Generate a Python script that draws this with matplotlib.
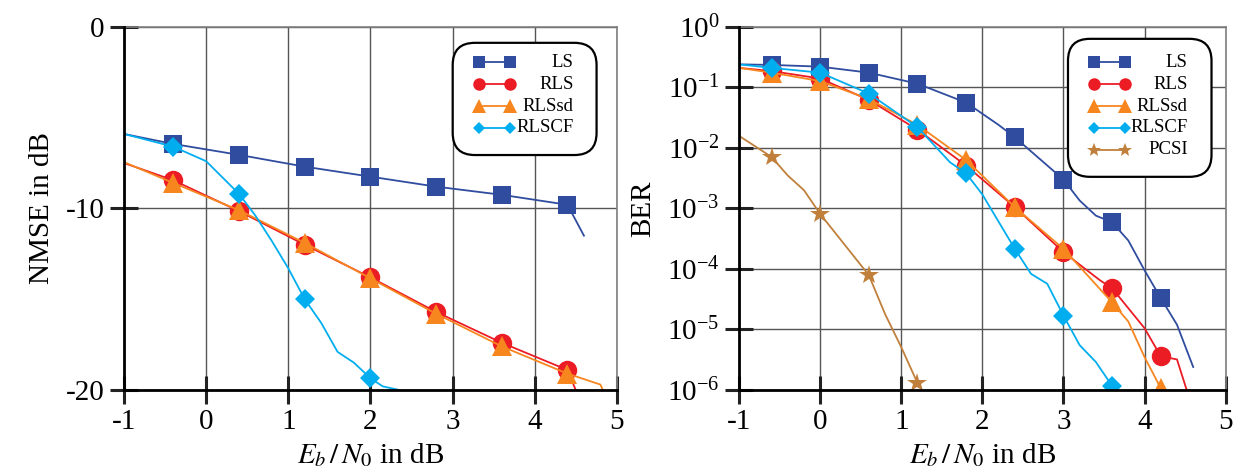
import numpy as np
import matplotlib
matplotlib.use("Agg")
import matplotlib.pyplot as plt
from matplotlib.patches import FancyBboxPatch

plt.rcParams['font.family'] = ['Liberation Serif', 'DejaVu Serif']
plt.rcParams['mathtext.fontset'] = 'stix'
plt.rcParams['axes.unicode_minus'] = False

# ---------------- NMSE (left) ----------------
nmse_ls_x = [-1, -0.4, 0.4, 1.2, 2.0, 2.8, 3.6, 4.4, 4.6]
nmse_ls_y = [-5.9, -6.45, -7.05, -7.7, -8.25, -8.8, -9.25, -9.8, -11.5]
nmse_rls_x = [-1, -0.4, 0.4, 1.2, 2.0, 2.8, 3.6, 4.4, 4.5]
nmse_rls_y = [-7.5, -8.45, -10.15, -12.0, -13.8, -15.7, -17.4, -18.9, -20.0]
nmse_rlssd_x = [-1, -0.4, 0.4, 1.2, 2.0, 2.8, 3.6, 4.4, 4.8, 4.83]
nmse_rlssd_y = [-7.45, -8.6, -10.1, -11.9, -13.85, -15.8, -17.6, -19.1, -19.7, -20.0]
nmse_rlscf_x = [-1, -0.4, 0, 0.4, 0.6, 0.8, 1.0, 1.2, 1.4, 1.6, 1.8, 2.0, 2.15, 2.35]
nmse_rlscf_y = [-5.9, -6.6, -7.4, -9.2, -10.4, -11.8, -13.3, -15.0, -16.3, -17.9, -18.5, -19.35, -19.8, -20.0]
nmse_marker_x = [-0.4, 0.4, 1.2, 2.0, 2.8, 3.6, 4.4]

# ---------------- BER (right) ----------------
ber_ls_x = [-1, -0.6, 0, 0.6, 1.2, 1.8, 2.2, 2.4, 3.0, 3.2, 3.4, 3.6, 3.8, 4.0, 4.2, 4.4, 4.6]
ber_ls_y = [0.24, 0.235, 0.22, 0.175, 0.115, 0.056, 0.024, 0.015, 0.003, 1.35e-3, 7.6e-4,
            5.9e-4, 2.95e-4, 9.5e-5, 3.3e-5, 1.2e-5, 2.4e-6]
ber_rls_x = [-1, -0.6, 0, 0.6, 1.2, 1.8, 2.4, 3.0, 3.45, 3.6, 4.0, 4.2, 4.4, 4.52]
ber_rls_y = [0.21, 0.186, 0.14, 0.062, 0.020, 0.0051, 1.05e-3, 1.9e-4, 6.5e-5, 4.8e-5,
             1.05e-5, 3.6e-6, 3.2e-6, 1.0e-6]
ber_rlssd_x = [-1, -0.6, 0, 0.6, 1.2, 1.8, 2.4, 3.0, 3.6, 3.8, 4.0, 4.2]
ber_rlssd_y = [0.21, 0.175, 0.127, 0.064, 0.024, 0.0063, 1.05e-3, 2.15e-4, 2.8e-5, 1.35e-5,
               3.5e-6, 1.07e-6]
ber_rlscf_x = [-1, -0.6, 0, 0.6, 1.2, 1.6, 1.8, 2.0, 2.4, 2.6, 2.8, 3.0, 3.2, 3.4, 3.6]
ber_rlscf_y = [0.24, 0.21, 0.175, 0.079, 0.022, 0.0058, 0.0038, 1.7e-3, 2.15e-4, 8.3e-5,
               5.7e-5, 1.7e-5, 5.5e-6, 2.9e-6, 1.17e-6]
ber_pcsi_x = [-1, -0.6, -0.4, -0.2, 0, 0.6, 0.8, 1.0, 1.2]
ber_pcsi_y = [0.0158, 7.1e-3, 3.5e-3, 2.0e-3, 8.1e-4, 7.9e-5, 1.8e-5, 5.1e-6, 1.3e-6]
ber_marker_x = [-0.6, 0, 0.6, 1.2, 1.8, 2.4, 3.0, 3.6, 4.2]

x_ticks = [-1, 0, 1, 2, 3, 4, 5]
nmse_ticks = [-20, -10, 0]
ber_ticks = [1e-6, 1e-5, 1e-4, 1e-3, 1e-2, 1e-1, 1e0]

nmse_names = ['LS', 'RLS', 'RLSsd', 'RLSCF']
ber_names = ['LS', 'RLS', 'RLSsd', 'RLSCF', 'PCSI']

colors = {'LS': '#2f4c9f', 'RLS': '#ec1c24', 'RLSsd': '#f7861f',
          'RLSCF': '#00aeef', 'PCSI': '#c0803c'}
markers = {'LS': ('s', 13), 'RLS': ('o', 14), 'RLSsd': ('^', 14),
           'RLSCF': ('D', 10), 'PCSI': ('*', 15)}
leg_markers = {'LS': ('s', 8), 'RLS': ('o', 9), 'RLSsd': ('^', 10),
               'RLSCF': ('D', 6.5), 'PCSI': ('*', 10)}

W, H = 12.38, 4.71
fig = plt.figure(figsize=(W, H), dpi=100)
ax1 = fig.add_axes([0.1002, 0.172, 0.398, 0.771])
ax2 = fig.add_axes([0.597, 0.172, 0.393, 0.771])


def plot_series(ax, name, x, y, mx):
    x = np.asarray(x)
    idx = list(np.where(np.isin(np.round(x, 3), np.round(mx, 3)))[0])
    m, ms = markers[name]
    ax.plot(x, y, color=colors[name], lw=1.3, marker=m, ms=ms, markevery=idx,
            markeredgewidth=0, label=name)


def style(ax):
    ax.set_xlim(-1, 5)
    ax.set_xticks(x_ticks)
    ax.grid(True, color='#555555', lw=1.0)
    ax.set_axisbelow(True)
    for s in ['left', 'bottom']:
        ax.spines[s].set_color('black')
        ax.spines[s].set_linewidth(2.0)
        ax.spines[s].set_zorder(5)
    for s in ['top', 'right']:
        ax.spines[s].set_color('#808080')
        ax.spines[s].set_linewidth(1.2)
    ax.tick_params(direction='inout', length=20, width=2.2, labelsize=21, pad=4,
                   color='#222222')
    ax.tick_params(axis='y', which='minor', left=False, right=False)
    ax.set_xlabel(r'$E_b\,/\,N_0$ in dB', fontsize=21, labelpad=4)


def draw_legend(ax, names, box, mx0, mx1, tx, y0, dy):
    x0, ya, x1, yb = box
    bb = ax.get_position()
    aspect = (bb.width * W) / (bb.height * H)
    patch = FancyBboxPatch((x0, yb), x1 - x0, ya - yb,
                           boxstyle='round,pad=0,rounding_size=0.045',
                           mutation_aspect=aspect, transform=ax.transAxes,
                           facecolor='white', edgecolor='black', lw=1.6,
                           zorder=10, clip_on=False)
    ax.add_patch(patch)
    for i, n in enumerate(names):
        yy = y0 - i * dy
        m, ms = leg_markers[n]
        ax.plot([mx0, mx1], [yy, yy], transform=ax.transAxes, color=colors[n],
                lw=1.3, marker=m, ms=ms, markeredgewidth=0, zorder=11, clip_on=False)
        ax.text(tx, yy, n, transform=ax.transAxes, ha='right', va='center',
                fontsize=13.5, zorder=12)


for n, x, y in zip(nmse_names,
                   [nmse_ls_x, nmse_rls_x, nmse_rlssd_x, nmse_rlscf_x],
                   [nmse_ls_y, nmse_rls_y, nmse_rlssd_y, nmse_rlscf_y]):
    plot_series(ax1, n, x, y, nmse_marker_x)
style(ax1)
ax1.set_ylim(-20, 0)
ax1.set_yticks(nmse_ticks)
ax1.set_ylabel('NMSE in dB', fontsize=21, labelpad=8)
draw_legend(ax1, nmse_names, (0.667, 0.956, 0.959, 0.647),
            0.720, 0.783, 0.912, 0.902, 0.060)

for n, x, y in zip(ber_names,
                   [ber_ls_x, ber_rls_x, ber_rlssd_x, ber_rlscf_x, ber_pcsi_x],
                   [ber_ls_y, ber_rls_y, ber_rlssd_y, ber_rlscf_y, ber_pcsi_y]):
    plot_series(ax2, n, x, y, ber_marker_x)
ax2.set_yscale('log')
style(ax2)
ax2.set_ylim(1e-6, 1)
ax2.set_yticks(ber_ticks)
ax2.set_ylabel('BER', fontsize=21, labelpad=8)
draw_legend(ax2, ber_names, (0.676, 0.967, 0.971, 0.587),
            0.730, 0.794, 0.922, 0.902, 0.060)

fig.savefig('out.png', dpi=100)
